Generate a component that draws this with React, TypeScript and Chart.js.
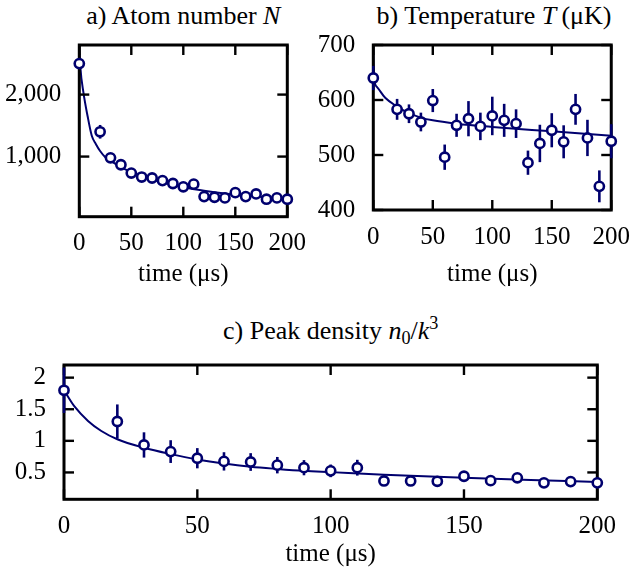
import React, { useEffect, useRef } from "react";
import { Chart, registerables } from "chart.js";

Chart.register(...registerables);
Chart.defaults.font.family = "'Liberation Serif', 'Times New Roman', serif";
Chart.defaults.color = "#000";

const NAVY = "#00006e";

// ---------- data ----------
const times = [0, 20, 30, 40, 50, 60, 70, 80, 90, 100, 110, 120, 130, 140, 150, 160, 170, 180, 190, 200];

const atomNumber = [2500, 1400, 980, 868, 734, 670, 654, 612, 566, 512, 555, 354, 344, 333, 418, 354, 397, 312, 333, 312];
const atomNumberErr = [60, 110, 40, 40, 35, 35, 35, 30, 30, 30, 30, 25, 25, 25, 25, 25, 25, 25, 25, 25];
const atomFitTimes = [0, 1, 4, 8, 12, 16, 20, 25, 30, 40, 50, 60, 70, 80, 90, 100, 120, 140, 160, 180, 200];
const atomFit = [2800, 2450, 2030, 1650, 1335, 1200, 1090, 990, 935, 830, 750, 680, 630, 580, 540, 505, 450, 405, 370, 345, 320];

const temperature = [640, 583, 575, 560, 599, 496, 554, 566, 552, 571, 563, 557, 486, 521, 545, 524, 583, 531, 443, 525];
const temperatureErr = [22, 19, 17, 17, 21, 23, 21, 32, 25, 35, 30, 26, 22, 34, 31, 30, 28, 33, 29, 31];
const tempFitTimes = [0, 0.5, 3, 10, 20, 30, 40, 50, 70, 100, 150, 200];
const tempFit = [700, 645, 624, 604, 588, 576, 568, 563, 557, 551, 543, 535];

const density = [1.8, 1.306, 0.935, 0.83, 0.725, 0.675, 0.665, 0.615, 0.575, 0.525, 0.575, 0.365, 0.365, 0.36, 0.44, 0.37, 0.415, 0.335, 0.355, 0.335];
const densityErr = [0.36, 0.27, 0.2, 0.18, 0.16, 0.145, 0.14, 0.13, 0.12, 0.1, 0.125, 0.04, 0.04, 0.04, 0.06, 0.04, 0.05, 0.04, 0.04, 0.04];
const densFitTimes = [0, 4, 9, 14, 20, 30, 40, 50, 60, 70, 80, 90, 100, 120, 150, 175, 200];
const densFit = [1.8, 1.54, 1.315, 1.156, 1.025, 0.89, 0.79, 0.705, 0.64, 0.59, 0.555, 0.525, 0.505, 0.465, 0.415, 0.38, 0.35];

const xTickValues = [0, 50, 100, 150, 200];
const atomTicks = [1000, 2000];
const tempTicks = [400, 500, 600, 700];
const densTicks = [0.5, 1, 1.5, 2];

type PanelProps = {
  left: number;
  top: number;
  width: number;
  height: number;
  areaLeft: number;
  areaTop: number;
  areaRight: number;
  areaBottom: number;
  yMin: number;
  yMax: number;
  yTicks: number[];
  yFormat: (v: number) => string;
  values: number[];
  errors: number[];
  fitX: number[];
  fitY: number[];
  titleBottomPad: number;
};

function Panel(p: PanelProps) {
  const ref = useRef<HTMLCanvasElement | null>(null);
  useEffect(() => {
    if (!ref.current) return;
    const box = (chart: any) => {
      const xs = chart.scales.x;
      const ys = chart.scales.y;
      return {
        xs,
        ys,
        l: xs.getPixelForValue(0),
        r: xs.getPixelForValue(200),
        t: ys.getPixelForValue(p.yMax),
        b: ys.getPixelForValue(p.yMin),
      };
    };
    const framePlugin = {
      id: "frameTicks",
      beforeDatasetDraw(chart: any, args: any) {
        if (args.index !== 0) return;
        const ctx = chart.ctx as CanvasRenderingContext2D;
        const { xs, ys, l, r, t, b } = box(chart);
        ctx.save();
        // frame
        ctx.strokeStyle = "#000";
        ctx.lineWidth = 3;
        ctx.lineJoin = "miter";
        ctx.strokeRect(l, t, r - l, b - t);
        // inner ticks
        ctx.lineWidth = 2.4;
        const L = 10;
        for (const v of xTickValues) {
          const px = xs.getPixelForValue(v);
          ctx.beginPath();
          ctx.moveTo(px, b);
          ctx.lineTo(px, b - L);
          ctx.stroke();
          ctx.beginPath();
          ctx.moveTo(px, t);
          ctx.lineTo(px, t + L);
          ctx.stroke();
        }
        for (const v of p.yTicks) {
          const py = ys.getPixelForValue(v);
          ctx.beginPath();
          ctx.moveTo(l, py);
          ctx.lineTo(l + L, py);
          ctx.stroke();
          ctx.beginPath();
          ctx.moveTo(r, py);
          ctx.lineTo(r - L, py);
          ctx.stroke();
        }
        // error bars
        ctx.strokeStyle = NAVY;
        ctx.lineWidth = 2.6;
        times.forEach((tt, i) => {
          const px = xs.getPixelForValue(tt);
          const y1 = Math.max(t, ys.getPixelForValue(p.values[i] + p.errors[i]));
          const y2 = Math.min(b, ys.getPixelForValue(p.values[i] - p.errors[i]));
          ctx.beginPath();
          ctx.moveTo(px, y1);
          ctx.lineTo(px, y2);
          ctx.stroke();
        });
        ctx.restore();
      },
    };
    const chart = new Chart(ref.current, {
      type: "scatter",
      data: {
        datasets: [
          {
            data: times.map((t, i) => ({ x: t, y: p.values[i] })),
            pointRadius: 4.6,
            pointBorderWidth: 2.6,
            pointBackgroundColor: "#fff",
            pointBorderColor: NAVY,
            borderColor: NAVY,
            backgroundColor: "#fff",
            showLine: false,
            clip: false as any,
            order: 0,
          },
          {
            data: p.fitX.map((t, i) => ({ x: t, y: p.fitY[i] })),
            showLine: true,
            fill: false,
            pointRadius: 0,
            borderColor: NAVY,
            borderWidth: 2,
            cubicInterpolationMode: "monotone",
            order: 1,
          } as any,
        ],
      },
      options: {
        animation: false,
        responsive: false,
        maintainAspectRatio: false,
        devicePixelRatio: 1,
        layout: {
          padding: {
            left: 0,
            top: p.areaTop,
            right: p.width - p.areaRight,
            bottom: 0,
          },
        },
        plugins: {
          legend: { display: false },
          tooltip: { enabled: false },
          title: { display: false },
        },
        scales: {
          x: {
            type: "linear",
            min: 0,
            max: 200,
            grid: { display: false },
            border: { display: false },
            afterBuildTicks: (s: any) => {
              s.ticks = xTickValues.map((v) => ({ value: v }));
            },
            afterFit: (s: any) => {
              s.height = p.height - p.areaBottom;
            },
            ticks: {
              padding: 4,
              color: "#000",
              font: { size: 25 },
              maxRotation: 0,
              autoSkip: false,
              callback: (v: any) => String(v),
            },
            title: {
              display: true,
              text: "time (μs)",
              color: "#000",
              font: { size: 25 },
              padding: { top: 0, bottom: p.titleBottomPad },
            },
          },
          y: {
            type: "linear",
            min: p.yMin,
            max: p.yMax,
            grid: { display: false },
            border: { display: false },
            afterBuildTicks: (s: any) => {
              s.ticks = p.yTicks.map((v) => ({ value: v }));
            },
            afterFit: (s: any) => {
              s.width = p.areaLeft;
            },
            ticks: {
              padding: 10,
              color: "#000",
              font: { size: 25 },
              autoSkip: false,
              callback: (v: any) => p.yFormat(Number(v)),
            },
          },
        },
      },
      plugins: [framePlugin],
    });
    return () => chart.destroy();
  }, []);
  return (
    <canvas
      ref={ref}
      width={p.width}
      height={p.height}
      style={{ position: "absolute", left: p.left, top: p.top, width: p.width, height: p.height }}
    />
  );
}

const titleStyle = (center: number, baseline: number): React.CSSProperties => ({
  position: "absolute",
  left: center - 200,
  width: 400,
  top: baseline - 22,
  textAlign: "center",
  fontFamily: "'Liberation Serif', 'Times New Roman', serif",
  fontSize: 26,
  lineHeight: "26px",
  color: "#000",
  whiteSpace: "nowrap",
});

const supSub = (shift: number): React.CSSProperties => ({
  fontSize: "0.7em",
  position: "relative",
  top: shift,
  verticalAlign: "baseline",
  lineHeight: 0,
});

export default function App() {
  return (
    <div style={{ position: "absolute", left: 0, top: 0, width: 634, height: 569, background: "#fff" }}>
      <div style={titleStyle(183.3, 25)}>
        a) Atom number <i>N</i>
      </div>
      <div style={titleStyle(494, 25)}>
        b) Temperature <i>T</i>
        {"\u2009"}(μK)
      </div>
      <div style={titleStyle(330.7, 340)}>
        c) Peak density <i>n</i>
        <span style={supSub(5)}>0</span>/<i>k</i>
        <span style={supSub(-10)}>3</span>
      </div>
      <Panel
        left={0}
        top={20}
        width={317}
        height={275}
        areaLeft={79.3}
        areaTop={23.3}
        areaRight={287.3}
        areaBottom={196.7}
        yMin={30}
        yMax={2800}
        yTicks={atomTicks}
        yFormat={(v) => v.toLocaleString("en-US")}
        values={atomNumber}
        errors={atomNumberErr}
        fitX={atomFitTimes}
        fitY={atomFit}
        titleBottomPad={6}
      />
      <Panel
        left={317}
        top={20}
        width={317}
        height={275}
        areaLeft={56.3}
        areaTop={22.3}
        areaRight={297}
        areaBottom={190}
        yMin={400}
        yMax={700}
        yTicks={tempTicks}
        yFormat={(v) => String(v)}
        values={temperature}
        errors={temperatureErr}
        fitX={tempFitTimes}
        fitY={tempFit}
        titleBottomPad={6}
      />
      <Panel
        left={0}
        top={340}
        width={634}
        height={229}
        areaLeft={64}
        areaTop={17.3}
        areaRight={597.3}
        areaBottom={159.3}
        yMin={0.075}
        yMax={2.2}
        yTicks={densTicks}
        yFormat={(v) => String(v)}
        values={density}
        errors={densityErr}
        fitX={densFitTimes}
        fitY={densFit}
        titleBottomPad={0}
      />
    </div>
  );
}
